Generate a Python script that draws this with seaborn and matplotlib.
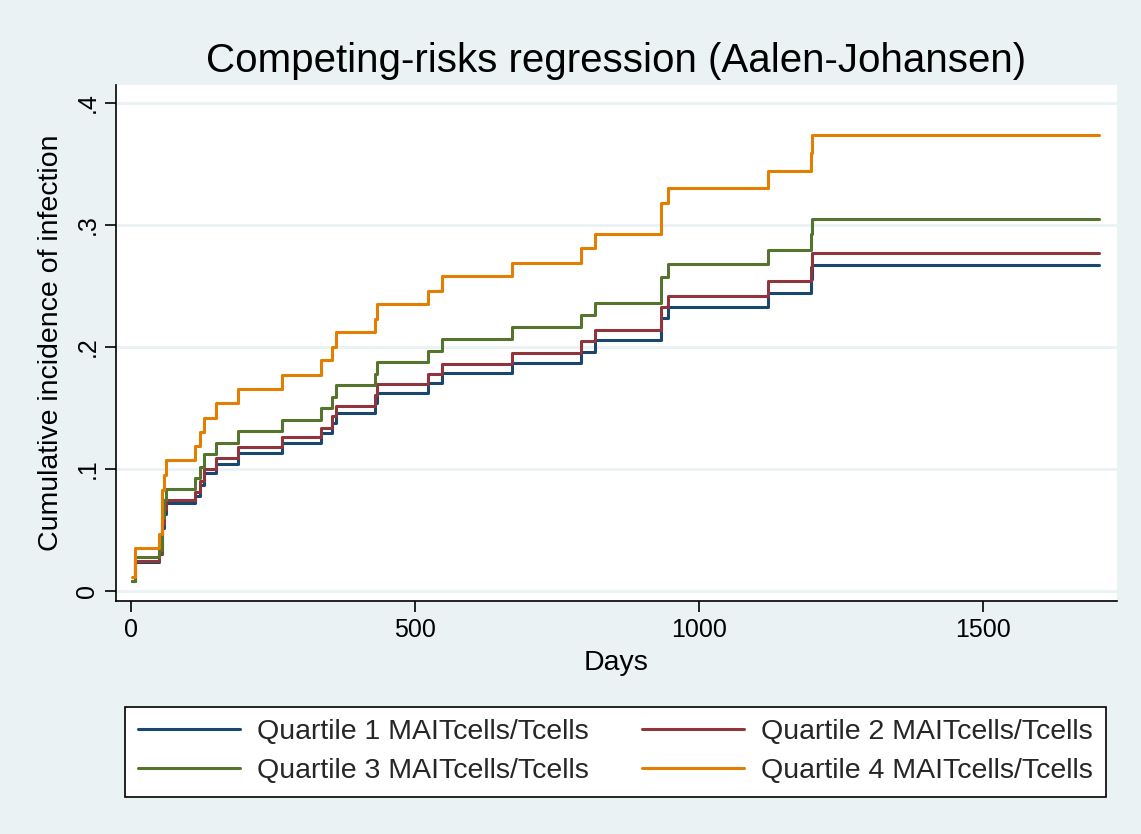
import numpy as np
import pandas as pd
import matplotlib
matplotlib.use("Agg")
import matplotlib.pyplot as plt
import seaborn as sns

# Event times (days) shared by all quartile curves
days = [1, 7, 49, 55, 58, 62, 113, 121, 129, 150, 188, 266, 335, 354, 361,
        430, 433, 523, 548, 671, 792, 817, 933, 945, 1121, 1197, 1199, 1704]

# Cumulative incidence of infection per quartile (step values after each time)
q1 = [0.008, 0.0235, 0.030, 0.052, 0.063, 0.072, 0.0775, 0.087, 0.0965, 0.104,
      0.113, 0.121, 0.1295, 0.138, 0.146, 0.154, 0.1625, 0.1705, 0.179, 0.187,
      0.196, 0.206, 0.224, 0.233, 0.244, 0.256, 0.267, 0.267]
q2 = [0.008, 0.0245, 0.031, 0.055, 0.067, 0.075, 0.081, 0.090, 0.100, 0.109,
      0.118, 0.126, 0.134, 0.1435, 0.152, 0.161, 0.170, 0.178, 0.186, 0.195,
      0.205, 0.214, 0.233, 0.242, 0.254, 0.266, 0.277, 0.277]
q3 = [0.008, 0.028, 0.034, 0.060, 0.075, 0.084, 0.093, 0.102, 0.112, 0.121,
      0.131, 0.140, 0.150, 0.159, 0.169, 0.178, 0.1875, 0.197, 0.2065, 0.2165,
      0.226, 0.236, 0.257, 0.268, 0.2795, 0.293, 0.305, 0.305]
q4 = [0.0115, 0.035, 0.047, 0.083, 0.095, 0.107, 0.119, 0.130, 0.142, 0.154,
      0.1655, 0.177, 0.189, 0.200, 0.212, 0.223, 0.235, 0.246, 0.258, 0.269,
      0.281, 0.293, 0.318, 0.330, 0.344, 0.359, 0.374, 0.374]

labels = ["Quartile 1 MAITcells/Tcells", "Quartile 2 MAITcells/Tcells",
          "Quartile 3 MAITcells/Tcells", "Quartile 4 MAITcells/Tcells"]
colors = ["#1A476F", "#90353B", "#55752F", "#E37E00"]

y_ticks = [0, 0.1, 0.2, 0.3, 0.4]
y_ticklabels = ["0", ".1", ".2", ".3", ".4"]
x_ticks = [0, 500, 1000, 1500]

df = pd.concat([
    pd.DataFrame({"Days": days, "cif": vals, "group": lab})
    for vals, lab in zip([q1, q2, q3, q4], labels)
], ignore_index=True)

sns.set_theme(style="white")
plt.rcParams["font.family"] = ["Liberation Sans", "DejaVu Sans"]

bg = "#EAF2F3"
fig = plt.figure(figsize=(11.41, 8.34), dpi=100, facecolor=bg)
ax = fig.add_axes([116 / 1141, 1 - 601 / 834, 1001 / 1141, (601 - 85) / 834])
ax.set_facecolor("white")

for y in y_ticks:
    ax.axhline(y, color=bg, lw=2.0, zorder=0)

sns.lineplot(data=df, x="Days", y="cif", hue="group", palette=colors,
             estimator=None, drawstyle="steps-post", lw=2.2, ax=ax,
             legend=False)

ax.set_xlim(-26.4, 1736)
ax.set_ylim(-0.0082, 0.4148)
ax.set_xticks(x_ticks)
ax.set_xticklabels([str(t) for t in x_ticks])
ax.set_yticks(y_ticks)
ax.set_yticklabels(y_ticklabels, rotation=90, va="center")

for side in ["top", "right"]:
    ax.spines[side].set_visible(False)
for side in ["left", "bottom"]:
    ax.spines[side].set_color("black")
    ax.spines[side].set_linewidth(1.2)

ax.tick_params(axis="both", direction="out", length=8, width=1.2,
               color="black", labelsize=18, labelcolor="black", pad=4,
               left=True, bottom=True)
ax.set_xlabel("Days", fontsize=20.5, labelpad=6, color="black")
ax.set_ylabel("Cumulative incidence of infection", fontsize=20.5,
              labelpad=8, color="black")

fig.text(616 / 1141, 1 - 61 / 834,
         "Competing-risks regression (Aalen-Johansen)",
         ha="center", va="center", fontsize=29, color="black")

# Legend entries laid out row by row (Q1 Q2 / Q3 Q4)
handles = [plt.Line2D([], [], color=c, lw=2.2) for c in colors]
order = [0, 2, 1, 3]
leg = fig.legend([handles[i] for i in order], [labels[i] for i in order],
                 ncol=2, loc="lower left",
                 bbox_to_anchor=(125 / 1141, 1 - 797 / 834, 981 / 1141, 94 / 834),
                 mode="expand", fontsize=20.5, frameon=True, fancybox=False,
                 edgecolor="black", facecolor="white", framealpha=1,
                 handlelength=3.6, handletextpad=0.6, labelspacing=0.45,
                 borderaxespad=0, borderpad=0.45)
leg.get_frame().set_linewidth(1.2)

fig.savefig("out.png", dpi=100, facecolor=bg)
